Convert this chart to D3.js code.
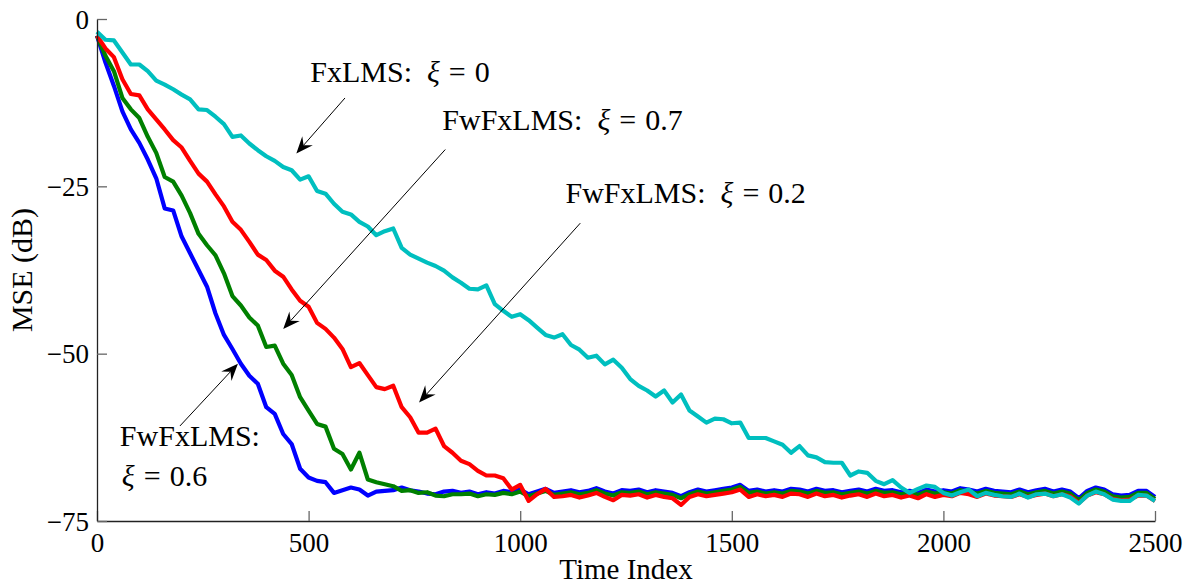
<!DOCTYPE html>
<html>
<head>
<meta charset="utf-8">
<script src="https://cdn.jsdelivr.net/npm/d3@7"></script>
<style>
  body { margin: 0; background: #fff; }
  svg text { font-family: "Liberation Serif", "DejaVu Serif", serif; fill: #000; }
</style>
</head>
<body>
<div id="chart"></div>
<script>
// time index, one sample every 20 iterations
const timeIndex = d3.range(0, 2501, 20);

// MSE (dB)
const mseXi06 = [
  -2.5, -6.5, -10.0, -13.8, -16.5, -18.5, -21.0, -23.8, -28.3, -28.6,
  -32.5, -35.0, -37.5, -40.0, -44.0, -47.2, -49.3, -51.5, -53.3, -54.5,
  -58.0, -59.0, -62.0, -63.5, -67.2, -68.5, -69.0, -69.2, -70.8, -70.4,
  -70.0, -70.3, -71.2, -70.6, -70.5, -70.4, -70.0, -70.4, -70.6, -70.9,
  -71.0, -70.6, -70.5, -70.8, -70.6, -71.0, -70.7, -70.9, -70.5, -70.7,
  -70.3, -71.0, -70.6, -70.2, -70.8, -70.6, -70.4, -70.7, -70.5, -70.1,
  -70.6, -70.9, -70.4, -70.5, -70.3, -70.7, -70.4, -70.6, -70.8, -71.3,
  -70.7, -70.3, -70.6, -70.4, -70.2, -70.0, -69.6, -70.5, -70.3, -70.6,
  -70.4, -70.6, -70.2, -70.3, -70.6, -70.2, -70.5, -70.4, -70.7, -70.5,
  -70.3, -70.6, -70.2, -70.5, -70.4, -70.7, -70.5, -70.8, -70.3, -70.6,
  -70.4, -70.6, -70.1, -70.3, -70.6, -70.2, -70.5, -70.6, -70.7, -70.3,
  -70.7, -70.4, -70.2, -70.6, -70.3, -70.6, -71.6, -70.5, -70.0, -70.3,
  -71.0, -71.2, -71.1, -70.5, -70.5, -71.4
];
const mseXi07 = [
  -2.5, -5.5, -7.8, -11.8, -13.5, -14.8, -17.6, -20.0, -23.6, -24.3,
  -26.4, -29.0, -32.1, -33.8, -35.3, -38.0, -41.4, -42.8, -44.6, -45.8,
  -49.0, -48.8, -51.5, -53.2, -56.5, -58.5, -60.5, -60.9, -64.2, -65.0,
  -67.3, -64.8, -68.8, -69.2, -69.5, -69.8, -70.5, -70.4, -70.8, -70.7,
  -71.2, -71.3, -71.0, -71.0, -70.9, -71.3, -71.0, -71.1, -70.8, -71.0,
  -70.6, -71.3, -70.9, -70.5, -71.1, -70.9, -70.7, -71.0, -70.8, -70.4,
  -70.9, -71.2, -70.7, -70.8, -70.6, -71.0, -70.7, -70.9, -71.1, -71.6,
  -71.0, -70.6, -70.9, -70.7, -70.5, -70.3, -69.9, -70.8, -70.6, -70.9,
  -70.7, -70.9, -70.5, -70.6, -70.9, -70.5, -70.8, -70.7, -71.0, -70.8,
  -70.6, -70.9, -70.5, -70.8, -70.7, -71.0, -70.8, -71.1, -70.6, -70.9,
  -70.7, -70.9, -70.4, -70.6, -70.9, -70.5, -70.8, -70.9, -71.0, -70.6,
  -71.0, -70.7, -70.5, -70.9, -70.6, -70.9, -71.9, -70.8, -70.3, -70.6,
  -71.3, -71.5, -71.4, -70.8, -70.8, -71.7
];
const mseXi02 = [
  -2.5, -4.4, -5.7, -9.0, -11.2, -11.4, -13.5, -15.0, -16.5, -18.1,
  -19.2, -21.2, -23.1, -24.3, -26.2, -28.0, -30.3, -31.5, -33.3, -35.2,
  -36.0, -37.6, -38.5, -40.4, -42.1, -43.0, -45.4, -46.3, -47.6, -49.3,
  -52.0, -51.4, -53.2, -55.0, -55.3, -54.8, -58.0, -59.5, -61.8, -61.8,
  -61.2, -63.8, -64.8, -66.0, -66.5, -67.5, -68.2, -68.2, -68.6, -70.3,
  -69.6, -72.0, -71.0, -70.2, -71.4, -71.3, -71.1, -71.5, -71.2, -70.8,
  -71.4, -71.9, -71.1, -71.2, -71.0, -71.5, -71.1, -71.4, -71.6, -72.6,
  -71.4, -71.0, -71.3, -71.1, -70.9, -70.7, -70.3, -71.4, -71.0, -71.3,
  -71.1, -71.4, -70.9, -71.0, -71.4, -70.9, -71.3, -71.1, -71.5, -71.2,
  -71.0, -71.4, -70.9, -71.3, -71.1, -71.5, -71.2, -71.6, -71.0, -71.4,
  -71.1, -71.3, -70.8, -71.0, -71.4, -70.9, -71.2, -71.3, -71.4, -71.0,
  -71.4, -71.1, -70.9, -71.3, -71.0, -71.3, -72.3, -71.2, -70.7, -71.0,
  -71.7, -71.9, -71.8, -71.2, -71.2, -72.0
];
const mseXi0 = [
  -1.9, -3.1, -3.2, -5.0, -6.8, -6.8, -7.8, -9.2, -9.8, -10.5,
  -11.3, -12.0, -13.5, -13.6, -14.6, -15.7, -17.6, -17.4, -18.6, -19.6,
  -20.5, -21.2, -22.1, -22.6, -24.0, -23.5, -25.7, -26.1, -27.6, -28.8,
  -29.2, -30.3, -31.0, -32.3, -31.7, -31.3, -34.2, -35.2, -35.8, -36.4,
  -36.9, -37.6, -38.6, -39.4, -40.3, -40.4, -39.8, -42.6, -43.6, -44.5,
  -44.1, -45.0, -46.1, -47.2, -47.6, -47.1, -48.7, -49.4, -50.6, -50.3,
  -51.6, -50.9, -52.1, -53.8, -54.8, -55.5, -56.4, -55.5, -57.3, -56.1,
  -58.5, -59.4, -60.3, -59.7, -59.8, -60.4, -60.3, -62.6, -62.6, -62.6,
  -63.1, -63.6, -64.8, -63.8, -65.2, -65.5, -66.2, -66.3, -66.3, -68.2,
  -67.6, -67.8, -69.0, -69.5, -68.9, -70.0, -70.8, -70.2, -69.7, -69.9,
  -70.8, -71.2, -70.7, -70.3, -71.3, -70.8, -71.1, -71.3, -71.4, -70.9,
  -71.5, -71.0, -70.9, -71.3, -71.0, -71.5, -72.4, -71.2, -70.6, -71.0,
  -71.8, -72.0, -72.0, -71.1, -71.2, -72.0
];

// plotting order (last one on top) and colours
const seriesValues = [mseXi06, mseXi07, mseXi02, mseXi0];
const seriesColors = ["#0000ff", "#008000", "#ff0000", "#00bfbf"];

const xTicks = [0, 500, 1000, 1500, 2000, 2500];
const yTicks = [0, -25, -50, -75];

// annotations, positions in data units
const annoLabels = ["FxLMS:", "FwFxLMS:", "FwFxLMS:", "FwFxLMS:"];
const annoXi = ["0", "0.7", "0.2", "0.6"];
const annoTextAt = [[504, -9.4], [816, -16.6], [1107, -27.5], [54, -63.8]];
const annoTwoLines = [false, false, false, true];
const annoArrowFrom = [[586, -11.8], [823, -19.5], [1142, -30.5], [196, -60.8]];
const annoArrowTo = [[471, -20.1], [440, -46.3], [761, -57.3], [333, -51.5]];

const margin = {top: 19, right: 33, bottom: 67, left: 97},
    width = 1188 - margin.left - margin.right,
    height = 588 - margin.top - margin.bottom;

let svg = d3.select("#chart")
    .append("svg")
    .attr("width", 1188)
    .attr("height", 588);

let g = svg.append("g")
    .attr("transform", "translate(" + margin.left + "," + margin.top + ")");

let x = d3.scaleLinear().domain([0, 2500]).range([0, width]);
let y = d3.scaleLinear().domain([-75, 0]).range([height, 0]);

// lines first so the axes sit over them
const line = d3.line()
    .x(function(d, i) { return x(timeIndex[i]); })
    .y(function(d) { return y(d); });

seriesValues.forEach(function(vals, k) {
    g.append("path")
        .datum(vals)
        .attr("fill", "none")
        .attr("stroke", seriesColors[k])
        .attr("stroke-width", 4.2)
        .attr("stroke-linejoin", "round")
        .attr("d", line);
});

// axes with inward ticks
let xAxis = g.append("g")
    .attr("transform", "translate(0," + height + ")")
    .call(d3.axisBottom(x).tickValues(xTicks).tickFormat(d3.format("d"))
        .tickSizeInner(-10).tickSizeOuter(0).tickPadding(12));

let yAxis = g.append("g")
    .call(d3.axisLeft(y).tickValues(yTicks)
        .tickSizeInner(-10).tickSizeOuter(0).tickPadding(8));

[xAxis, yAxis].forEach(function(ax) {
    ax.select(".domain").attr("stroke", "#222").attr("stroke-width", 1.3);
    ax.selectAll(".tick line").attr("stroke", "#666").attr("stroke-width", 1.3);
    ax.selectAll(".tick text")
        .attr("fill", "#000")
        .style("font-family", "'Liberation Serif', serif")
        .style("font-size", "27px");
});
yAxis.selectAll(".tick text").attr("dy", "0.34em");

// axis titles
svg.append("text")
    .attr("x", margin.left + width / 2)
    .attr("y", 579)
    .attr("text-anchor", "middle")
    .style("font-size", "29px")
    .text("Time Index");

svg.append("text")
    .attr("transform", "translate(32," + (margin.top + height / 2) + ") rotate(-90)")
    .attr("text-anchor", "middle")
    .style("font-size", "30px")
    .text("MSE (dB)");

// annotation text
function addXi(textSel, value) {
    textSel.append("tspan").attr("font-style", "italic").text("ξ");
    textSel.append("tspan").attr("dx", 9).text("=");
    textSel.append("tspan").attr("dx", 9).text(value);
}

annoLabels.forEach(function(lbl, k) {
    let tx = x(annoTextAt[k][0]), ty = y(annoTextAt[k][1]);
    let t = g.append("text")
        .attr("x", tx)
        .attr("y", ty)
        .style("font-size", "30px")
        .attr("xml:space", "preserve");
    if (annoTwoLines[k]) {
        t.text(lbl);
        let t2 = g.append("text")
            .attr("x", tx + 2)
            .attr("y", ty + 40)
            .style("font-size", "30px")
            .attr("xml:space", "preserve");
        addXi(t2, annoXi[k]);
    } else {
        t.append("tspan").text(lbl + "  ");
        addXi(t, annoXi[k]);
    }

    // arrow shaft + head
    let x1 = x(annoArrowFrom[k][0]), y1 = y(annoArrowFrom[k][1]);
    let x2 = x(annoArrowTo[k][0]), y2 = y(annoArrowTo[k][1]);
    let ang = Math.atan2(y2 - y1, x2 - x1);
    let headLen = 17, halfW = 7, notch = 11;
    let ux = Math.cos(ang), uy = Math.sin(ang);
    let bx = x2 - ux * headLen, by = y2 - uy * headLen;
    let nx = x2 - ux * notch, ny = y2 - uy * notch;

    g.append("line")
        .attr("x1", x1).attr("y1", y1)
        .attr("x2", nx).attr("y2", ny)
        .attr("stroke", "#000")
        .attr("stroke-width", 1);

    g.append("path")
        .attr("d", "M" + x2 + "," + y2 +
            "L" + (bx - uy * halfW) + "," + (by + ux * halfW) +
            "L" + nx + "," + ny +
            "L" + (bx + uy * halfW) + "," + (by - ux * halfW) + "Z")
        .attr("fill", "#000");
});
</script>
</body>
</html>
